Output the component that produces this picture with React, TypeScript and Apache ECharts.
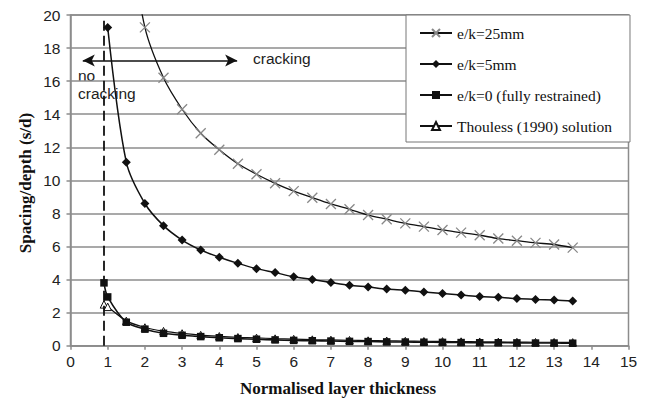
import React, { useEffect, useRef } from "react";
import * as echarts from "echarts";

const xTicks = { min: 0, max: 15, interval: 1 };
const yTicks = { min: 0, max: 20, interval: 2 };

const seriesNames = [
  "e/k=25mm",
  "e/k=5mm",
  "e/k=0 (fully restrained)",
  "Thouless (1990) solution",
];

const x25 = [1.5, 2, 2.5, 3, 3.5, 4, 4.5, 5, 5.5, 6, 6.5, 7, 7.5, 8, 8.5, 9, 9.5, 10, 10.5, 11, 11.5, 12, 12.5, 13, 13.5];
const y25 = [26, 19.25, 16.2, 14.3, 12.85, 11.85, 11.0, 10.37, 9.82, 9.35, 8.95, 8.57, 8.25, 7.9, 7.65, 7.4, 7.2, 7.0, 6.84, 6.68, 6.48, 6.35, 6.22, 6.12, 5.93];

const x5 = [1, 1.5, 2, 2.5, 3, 3.5, 4, 4.5, 5, 5.5, 6, 6.5, 7, 7.5, 8, 8.5, 9, 9.5, 10, 10.5, 11, 11.5, 12, 12.5, 13, 13.5];
const y5 = [19.25, 11.1, 8.6, 7.26, 6.39, 5.79, 5.35, 4.98, 4.66, 4.42, 4.17, 4.0, 3.82, 3.65, 3.55, 3.43, 3.35, 3.25, 3.15, 3.07, 2.97, 2.93, 2.85, 2.8, 2.76, 2.7];

const x0 = [0.9, 1, 1.5, 2, 2.5, 3, 3.5, 4, 4.5, 5, 5.5, 6, 6.5, 7, 7.5, 8, 8.5, 9, 9.5, 10, 10.5, 11, 11.5, 12, 12.5, 13, 13.5];
const y0 = [3.8, 2.95, 1.42, 1.0, 0.75, 0.63, 0.55, 0.48, 0.43, 0.39, 0.35, 0.32, 0.3, 0.28, 0.26, 0.25, 0.23, 0.22, 0.21, 0.2, 0.19, 0.18, 0.18, 0.17, 0.16, 0.16, 0.15];

const xTh = [0.9, 1, 1.5, 2, 2.5, 3, 3.5, 4, 4.5, 5, 5.5, 6, 6.5, 7, 7.5, 8, 8.5, 9, 9.5, 10, 10.5, 11, 11.5, 12, 12.5, 13, 13.5];
const yTh = [2.5, 2.35, 1.5, 1.1, 0.88, 0.74, 0.64, 0.57, 0.51, 0.47, 0.43, 0.4, 0.37, 0.35, 0.33, 0.31, 0.3, 0.28, 0.27, 0.26, 0.25, 0.24, 0.23, 0.22, 0.21, 0.21, 0.2];

// annotation positions (data coordinates)
const noCrackX = 0.9;
const noCrackTop = 19.9;
const arrowY = 17.25;
const arrowFrom = 0.33;
const arrowTo = 4.48;

const pairs = (xs: number[], ys: number[]) => xs.map((x, i) => [x, ys[i]]);

const GRID = "#8c8c8c";
const SANS = "Liberation Sans, Arial, sans-serif";
const SERIF = "Liberation Serif, Times New Roman, serif";

export default function App() {
  const ref = useRef<HTMLDivElement>(null);
  useEffect(() => {
    if (!ref.current) return;
    const chart = echarts.init(ref.current, null, { renderer: "svg" });
    chart.setOption({
      animation: false,
      backgroundColor: "#fff",
      grid: {
        left: 70.5,
        right: 19.5,
        top: 15,
        bottom: 56.3,
        show: true,
        borderColor: GRID,
        borderWidth: 1.5,
      },
      xAxis: {
        type: "value",
        min: xTicks.min,
        max: xTicks.max,
        interval: xTicks.interval,
        axisLine: { show: true, lineStyle: { color: GRID, width: 1.5 } },
        axisTick: { show: true, length: 4, lineStyle: { color: GRID, width: 1.5 } },
        splitLine: { show: false },
        axisLabel: { color: "#222", fontSize: 15.5, fontFamily: SANS, margin: 8 },
      },
      yAxis: {
        type: "value",
        min: yTicks.min,
        max: yTicks.max,
        interval: yTicks.interval,
        axisLine: { show: true, lineStyle: { color: GRID, width: 1.5 } },
        axisTick: { show: true, length: 4, lineStyle: { color: GRID, width: 1.5 } },
        splitLine: { show: true, lineStyle: { color: GRID, width: 1.5 } },
        axisLabel: { color: "#222", fontSize: 15.5, fontFamily: SANS, margin: 10 },
      },
      legend: {
        orient: "vertical",
        left: 406,
        top: 15,
        backgroundColor: "#fff",
        borderColor: "#777",
        borderWidth: 1,
        padding: [10, 18, 8, 13],
        itemWidth: 32,
        itemHeight: 10,
        itemGap: 15,
        data: seriesNames,
        textStyle: { fontFamily: SERIF, fontSize: 15.5, color: "#111", lineHeight: 16 },
      },
      series: [
        {
          name: seriesNames[0],
          type: "line",
          data: pairs(x25, y25),
          smooth: 0.3,
          clip: true,
          symbol: "path://M0,0L10,10M10,0L0,10",
          symbolSize: 10,
          lineStyle: { color: "#111", width: 1.3 },
          itemStyle: { color: "transparent", borderColor: "#888", borderWidth: 1.3 },
          z: 3,
        },
        {
          name: seriesNames[1],
          type: "line",
          data: pairs(x5, y5),
          smooth: 0.3,
          clip: true,
          symbol: "diamond",
          symbolSize: 9,
          lineStyle: { color: "#111", width: 1.5 },
          itemStyle: { color: "#111" },
          z: 3,
        },
        {
          name: seriesNames[2],
          type: "line",
          data: pairs(x0, y0),
          smooth: 0.3,
          clip: true,
          symbol: "rect",
          symbolSize: 7.5,
          lineStyle: { color: "#111", width: 1.6 },
          itemStyle: { color: "#111" },
          z: 4,
          markLine: {
            silent: true,
            symbol: "none",
            label: { show: false },
            data: [
              [
                { coord: [noCrackX, 0], symbol: "none" },
                { coord: [noCrackX, noCrackTop], symbol: "none", lineStyle: { type: [10, 5], color: "#111", width: 1.8 } },
              ],
              [
                { coord: [arrowFrom, arrowY], symbol: "arrow", symbolSize: [9, 12] },
                { coord: [arrowTo, arrowY], symbol: "arrow", symbolSize: [9, 12], lineStyle: { type: "solid", color: "#111", width: 1.6 } },
              ],
            ],
            lineStyle: { color: "#111", width: 1.6 },
          },
        },
        {
          name: seriesNames[3],
          type: "line",
          data: pairs(xTh, yTh),
          smooth: 0.3,
          clip: true,
          symbol: "triangle",
          symbolSize: 7.5,
          lineStyle: { color: "#111", width: 1.2 },
          itemStyle: { color: "#fff", borderColor: "#111", borderWidth: 1 },
          z: 2,
        },
      ],
      graphic: [
        {
          type: "text",
          x: 253,
          y: 58,
          style: { text: "cracking", fontSize: 15.5, fontFamily: SANS, fill: "#222", verticalAlign: "middle" },
        },
        {
          type: "text",
          x: 78,
          y: 75,
          style: { text: "no", fontSize: 15.5, fontFamily: SANS, fill: "#222", verticalAlign: "middle" },
        },
        {
          type: "text",
          x: 78,
          y: 93,
          style: { text: "cracking", fontSize: 15.5, fontFamily: SANS, fill: "#222", verticalAlign: "middle" },
        },
        {
          type: "text",
          x: 338,
          y: 388,
          style: {
            text: "Normalised layer thickness",
            fontSize: 17,
            fontWeight: "bold",
            fontFamily: SERIF,
            fill: "#111",
            align: "center",
            verticalAlign: "middle",
          },
        },
        {
          type: "text",
          x: 25,
          y: 183,
          rotation: Math.PI / 2,
          style: {
            text: "Spacing/depth (s/d)",
            fontSize: 17,
            fontWeight: "bold",
            fontFamily: SERIF,
            fill: "#111",
            align: "center",
            verticalAlign: "middle",
          },
        },
      ],
    });
    return () => chart.dispose();
  }, []);
  return (
    <div
      ref={ref}
      style={{ position: "fixed", left: 0, top: 0, width: 648, height: 402, background: "#fff" }}
    />
  );
}
